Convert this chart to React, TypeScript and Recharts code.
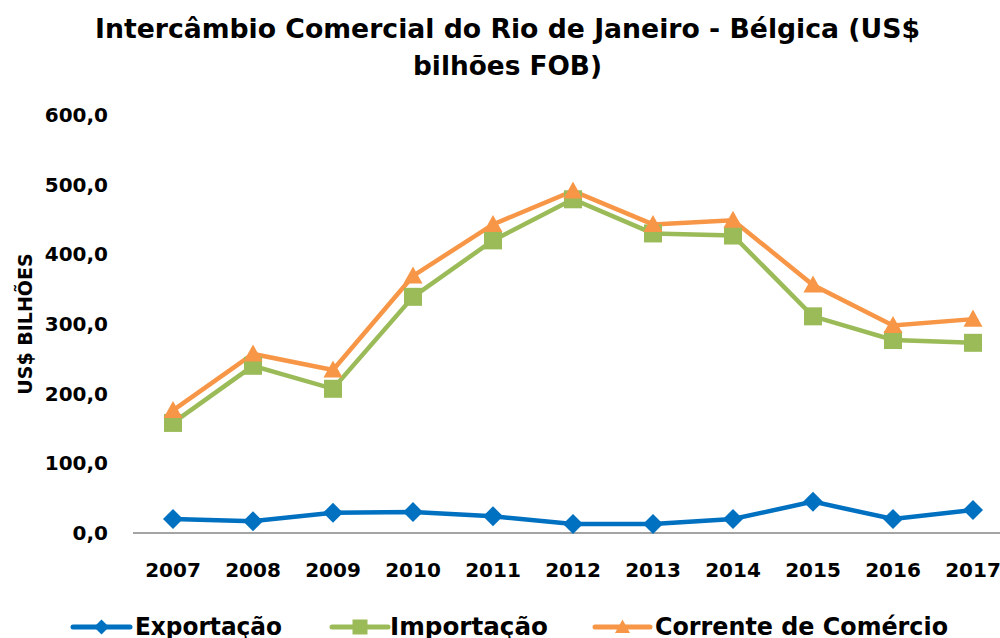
import { LineChart, Line, XAxis, YAxis } from 'recharts';

const years = ['2007', '2008', '2009', '2010', '2011', '2012', '2013', '2014', '2015', '2016', '2017'];
const exportacao = [20, 17, 29, 30, 24, 13, 13, 20, 45, 20, 33];
const importacao = [158, 240, 207, 339, 420, 479, 430, 427, 311, 277, 273];
const corrente = [176, 257, 234, 369, 443, 491, 443, 449, 356, 298, 307];
const yTicks = [0, 100, 200, 300, 400, 500, 600];

const data = years.map((ano, i) => ({
  ano,
  exportacao: exportacao[i],
  importacao: importacao[i],
  corrente: corrente[i],
}));

const FONT = '"DejaVu Sans", Verdana, sans-serif';
const BLUE = '#0070C0';
const GREEN = '#9BBB59';
const ORANGE = '#F79646';

function marker(kind: string, cx: number, cy: number, s: number, color: string, key?: string) {
  if (kind === 'diamond') {
    const h = s / 2;
    return <polygon key={key} points={`${cx},${cy - h} ${cx + h},${cy} ${cx},${cy + h} ${cx - h},${cy}`} fill={color} />;
  }
  if (kind === 'square') {
    return <rect key={key} x={cx - s / 2} y={cy - s / 2} width={s} height={s} fill={color} />;
  }
  const h = s / 2;
  return <polygon key={key} points={`${cx},${cy - h} ${cx + h},${cy + h * 0.8} ${cx - h},${cy + h * 0.8}`} fill={color} />;
}

const dotFor = (kind: string, size: number, color: string) => (props: any) =>
  marker(kind, props.cx, props.cy, size, color, `${kind}-${props.index}`);

const fmt = (v: number) => v.toFixed(1).replace('.', ',');

const legendItems = [
  { label: 'Exportação', color: BLUE, kind: 'diamond', x1: 73, x2: 130, tx: 135, tl: 147 },
  { label: 'Importação', color: GREEN, kind: 'square', x1: 332, x2: 388, tx: 390, tl: 158 },
  { label: 'Corrente de Comércio', color: ORANGE, kind: 'triangle', x1: 595, x2: 650, tx: 655, tl: 293 },
];

export default function App() {
  return (
    <div style={{ position: 'fixed', left: 0, top: 0, width: 1000, height: 638, overflow: 'hidden', background: '#fff' }}>
      <svg width={1000} height={90} style={{ position: 'absolute', left: 0, top: 0 }}>
        <text x={507.5} y={38} textAnchor="middle" fontFamily={FONT} fontWeight="bold" fontSize={27}
          textLength={825} lengthAdjust="spacingAndGlyphs" fill="#000">
          Intercâmbio Comercial do Rio de Janeiro - Bélgica (US$
        </text>
        <text x={507.5} y={75} textAnchor="middle" fontFamily={FONT} fontWeight="bold" fontSize={27}
          textLength={189} lengthAdjust="spacingAndGlyphs" fill="#000">
          bilhões FOB)
        </text>
      </svg>

      <div style={{ position: 'absolute', left: 0, top: 0 }}>
        <LineChart width={1020} height={638} data={data} margin={{ top: 115, right: 7, bottom: 75, left: 0 }}>
          <XAxis
            dataKey="ano"
            height={30}
            padding={{ left: 40, right: 40 }}
            tickLine={false}
            tickSize={0}
            tickMargin={30}
            axisLine={{ stroke: '#868686', strokeWidth: 1.5 }}
            tick={{ fill: '#000', fontFamily: FONT, fontWeight: 'bold', fontSize: 20 }}
            interval={0}
          />
          <YAxis
            width={133}
            domain={[0, 600]}
            ticks={yTicks}
            tickFormatter={fmt}
            axisLine={false}
            tickLine={false}
            tickSize={0}
            tickMargin={25}
            tick={{ fill: '#000', fontFamily: FONT, fontWeight: 'bold', fontSize: 20 }}
            label={{
              value: 'US$ BILHÕES',
              angle: -90,
              position: 'insideLeft',
              offset: 25,
              style: { textAnchor: 'middle', fill: '#000', fontFamily: FONT, fontWeight: 'bold', fontSize: 19 },
            }}
          />
          <Line dataKey="exportacao" stroke={BLUE} strokeWidth={4.5} isAnimationActive={false}
            dot={dotFor('diamond', 20, BLUE)} activeDot={false} />
          <Line dataKey="importacao" stroke={GREEN} strokeWidth={4.5} isAnimationActive={false}
            dot={dotFor('square', 18, GREEN)} activeDot={false} />
          <Line dataKey="corrente" stroke={ORANGE} strokeWidth={4.5} isAnimationActive={false}
            dot={dotFor('triangle', 19, ORANGE)} activeDot={false} />
        </LineChart>
      </div>

      <svg width={1000} height={48} style={{ position: 'absolute', left: 0, top: 590 }}>
        {legendItems.map((it) => {
          const mid = (it.x1 + it.x2) / 2;
          return (
            <g key={it.label}>
              <line x1={it.x1} x2={it.x2} y1={37} y2={37} stroke={it.color} strokeWidth={5} strokeLinecap="round" />
              {marker(it.kind, mid, 37, 15, it.color)}
              <text x={it.tx} y={45} fontFamily={FONT} fontWeight="bold" fontSize={24}
                textLength={it.tl} lengthAdjust="spacingAndGlyphs" fill="#000">
                {it.label}
              </text>
            </g>
          );
        })}
      </svg>
    </div>
  );
}
